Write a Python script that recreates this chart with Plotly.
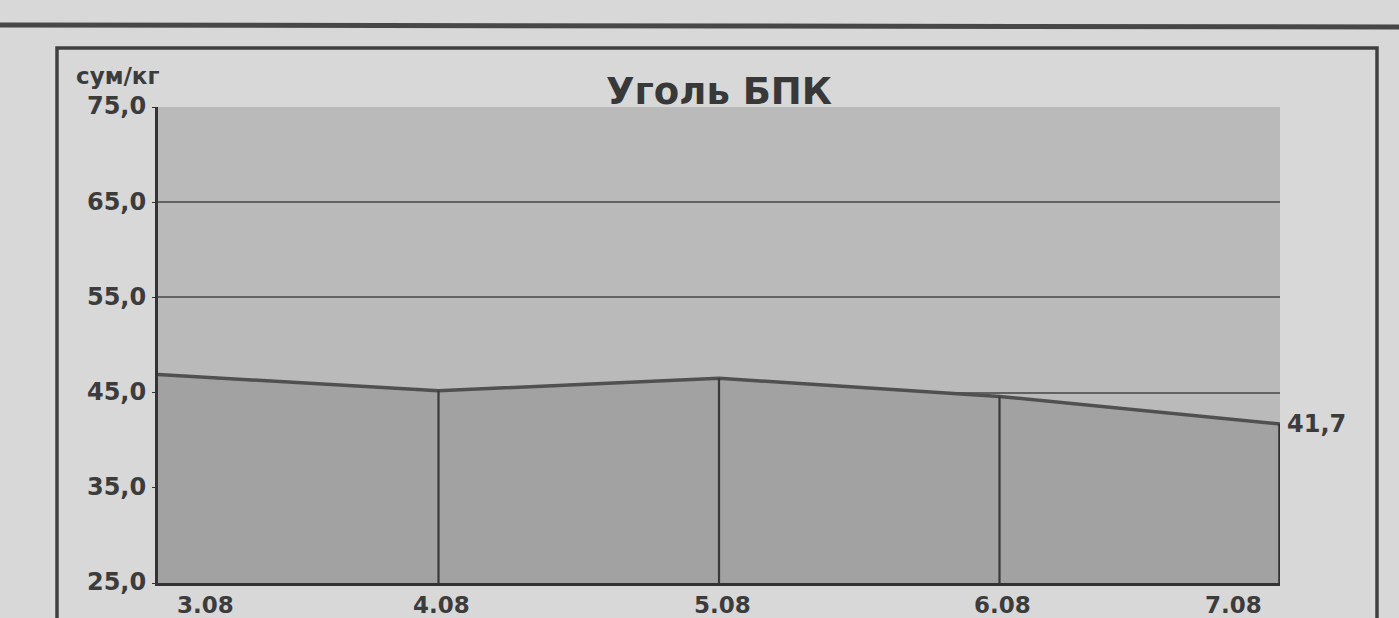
import plotly.graph_objects as go

dates = ["3.08", "4.08", "5.08", "6.08", "7.08"]
prices = [46.9, 45.2, 46.5, 44.6, 41.7]
y_ticks = [25, 35, 45, 55, 65, 75]
y_tick_text = ["25,0", "35,0", "45,0", "55,0", "65,0", "75,0"]
title_text = "Уголь БПК"
unit_text = "сум/кг"
last_label = "41,7"

W, H = 1399, 618
L, R, T, B = 158, 119, 107, 35
pw = W - L - R
ph = H - T - B

def px_x(p):
    return (p - L) / pw

def px_y(p):
    return (H - B - p) / ph

xs = list(range(len(dates)))
TXT = "#3c3c3c"
FONT = "DejaVu Sans"

fig = go.Figure()
fig.add_trace(go.Scatter(
    x=xs, y=prices, mode="lines", fill="tozeroy",
    fillcolor="#a2a2a2", line=dict(color="#505050", width=3.5),
    hoverinfo="skip", showlegend=False,
))
# vertical drop lines from each point down to the base
dx, dy = [], []
for xi, v in zip(xs[1:], prices[1:]):
    dx += [xi, xi, None]
    dy += [y_ticks[0], v, None]
fig.add_trace(go.Scatter(
    x=dx, y=dy, mode="lines", line=dict(color="#3a3a3a", width=2.2),
    hoverinfo="skip", showlegend=False,
))
fig.add_trace(go.Scatter(
    x=[xs[-1], xs[-1]], y=[y_ticks[0], prices[-1]], mode="lines",
    line=dict(color="#333333", width=3.5), hoverinfo="skip", showlegend=False,
))

annotations = []
for i, d in enumerate(dates):
    if i == 0:
        anchor, shift = "left", 17
    elif i == len(dates) - 1:
        anchor, shift = "right", -16
    else:
        anchor, shift = "center", 3
    annotations.append(dict(
        x=xs[i], y=0, xref="x", yref="paper", text=d, showarrow=False,
        xanchor=anchor, yanchor="middle", xshift=shift, yshift=-(605 - (H - B)),
        font=dict(family=FONT, size=23, color=TXT, weight="bold"),
    ))
annotations.append(dict(
    x=xs[-1], y=prices[-1], xref="x", yref="y", text=last_label, showarrow=False,
    xanchor="left", yanchor="middle", xshift=5, yshift=0,
    font=dict(family=FONT, size=24, color=TXT, weight="bold"),
))
annotations.append(dict(
    x=px_x(74), y=px_y(76), xref="paper", yref="paper", text=unit_text,
    showarrow=False, xanchor="left", yanchor="middle",
    font=dict(family=FONT, size=23, color=TXT, weight="bold"),
))
annotations.append(dict(
    x=0.5, y=px_y(92), xref="paper", yref="paper", text=title_text,
    showarrow=False, xanchor="center", yanchor="middle",
    font=dict(family=FONT, size=37, color="#383838", weight="bold"),
))

shapes = [
    # outer frame
    dict(type="rect", xref="paper", yref="paper",
         x0=px_x(57), x1=px_x(1377), y0=px_y(640), y1=px_y(48),
         line=dict(color="#404040", width=3.5), fillcolor="rgba(0,0,0,0)", layer="below"),
    # top page rule
    dict(type="line", xref="paper", yref="paper",
         x0=px_x(-5), x1=px_x(1405), y0=px_y(25), y1=px_y(27),
         line=dict(color="#474747", width=5)),
]

fig.update_layout(
    width=W, height=H,
    margin=dict(l=L, r=R, t=T, b=B),
    paper_bgcolor="#d8d8d8", plot_bgcolor="#bababa",
    annotations=annotations, shapes=shapes,
    showlegend=False,
)
fig.update_xaxes(
    range=[xs[0], xs[-1]], showgrid=False, showticklabels=False, zeroline=False,
    showline=True, linecolor="#333333", linewidth=3, ticks="",
)
fig.update_yaxes(
    range=[y_ticks[0], y_ticks[-1]], tickvals=y_ticks, ticktext=y_tick_text,
    showgrid=True, gridcolor="#626262", gridwidth=2, zeroline=False,
    showline=True, linecolor="#333333", linewidth=3,
    ticks="outside", ticklen=3, tickcolor="#333333",
    tickfont=dict(family=FONT, size=24, color=TXT, weight="bold"),
    ticklabelshift=-1, ticklabelstandoff=1,
)

fig.write_html(
    "out.html",
    config={"displayModeBar": False},
    post_script="document.body.style.margin='0';document.body.style.overflow='hidden';document.body.style.background='#d8d8d8';",
)
